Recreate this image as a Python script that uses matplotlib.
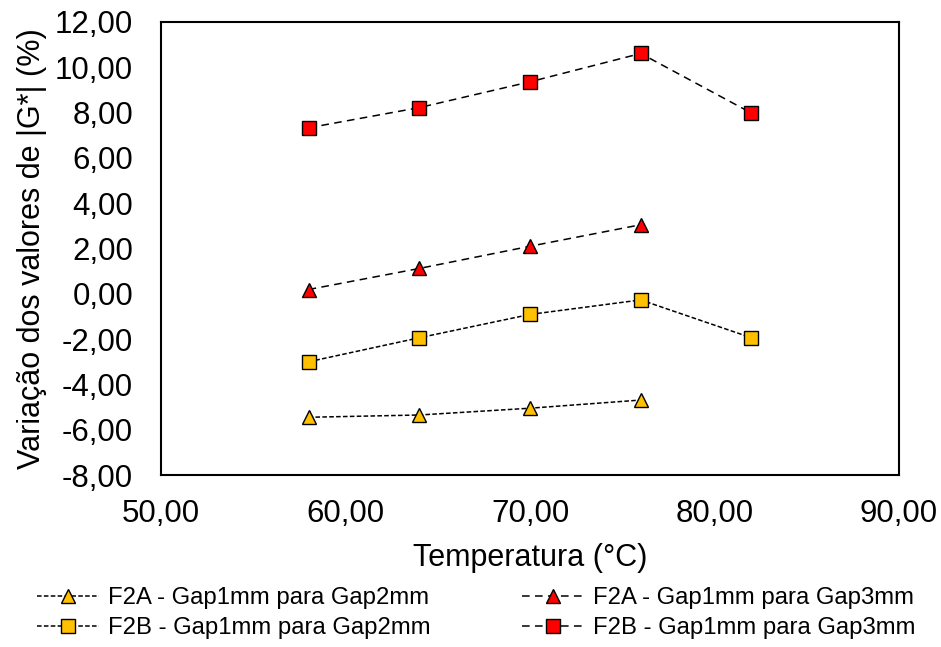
import numpy as np
import matplotlib
matplotlib.use("Agg")
import matplotlib.pyplot as plt
from matplotlib.ticker import FuncFormatter

plt.rcParams['font.family'] = ['Liberation Sans', 'DejaVu Sans']

# Data
temps = [58, 64, 70, 76, 82]
f2a_gap2 = [-5.45, -5.35, -5.05, -4.69]
f2a_gap3 = [0.19, 1.12, 2.10, 3.05]
f2b_gap2 = [-3.00, -1.94, -0.91, -0.27, -1.94]
f2b_gap3 = [7.33, 8.22, 9.36, 10.61, 7.98]

labels = ['F2A - Gap1mm para Gap2mm', 'F2A - Gap1mm para Gap3mm',
          'F2B - Gap1mm para Gap2mm', 'F2B - Gap1mm para Gap3mm']

yellow = '#FFC000'
red = '#FF0000'

fig = plt.figure(figsize=(9.41, 6.47), dpi=100)
ax = fig.add_axes([0.1711, 0.2658, 0.7843, 0.7002])

common = dict(color='black', linewidth=1.1, markersize=10,
              markeredgecolor='black', markeredgewidth=1.0)

l1, = ax.plot(temps[:4], f2a_gap2, marker='^', markerfacecolor=yellow,
              dashes=(3, 1.5), label=labels[0], **common)
l2, = ax.plot(temps[:4], f2a_gap3, marker='^', markerfacecolor=red,
              dashes=(5, 3.5), label=labels[1], **common)
l3, = ax.plot(temps, f2b_gap2, marker='s', markerfacecolor=yellow,
              dashes=(3, 1.5), label=labels[2], **common)
l4, = ax.plot(temps, f2b_gap3, marker='s', markerfacecolor=red,
              dashes=(5, 3.5), label=labels[3], **common)

ax.set_xlim(50, 90)
ax.set_ylim(-8, 12)
ax.set_xticks(np.arange(50, 91, 10))
ax.set_yticks(np.arange(-8, 13, 2))

# comma decimal separator, two decimals
fmt = FuncFormatter(lambda v, p: f"{v:.2f}".replace('.', ','))
ax.xaxis.set_major_formatter(fmt)
ax.yaxis.set_major_formatter(fmt)
ax.tick_params(axis='both', length=0, labelsize=22.5)
ax.tick_params(axis='x', pad=17)
ax.tick_params(axis='y', pad=20)

for s in ax.spines.values():
    s.set_linewidth(1.5)
    s.set_color('black')

ax.set_xlabel('Temperatura (°C)', fontsize=22, labelpad=10)
ax.set_ylabel('Variação dos valores de |G*| (%)', fontsize=22, labelpad=6)

fig.legend(handles=[l1, l3, l2, l4], ncol=2, loc='upper left',
           bbox_to_anchor=(37 / 941, 1 - 587 / 647), frameon=False,
           borderpad=0, borderaxespad=0,
           fontsize=17.2, handlelength=2.6, columnspacing=3.8,
           handletextpad=0.38, labelspacing=0.35)

fig.savefig('out.png', dpi=100)
